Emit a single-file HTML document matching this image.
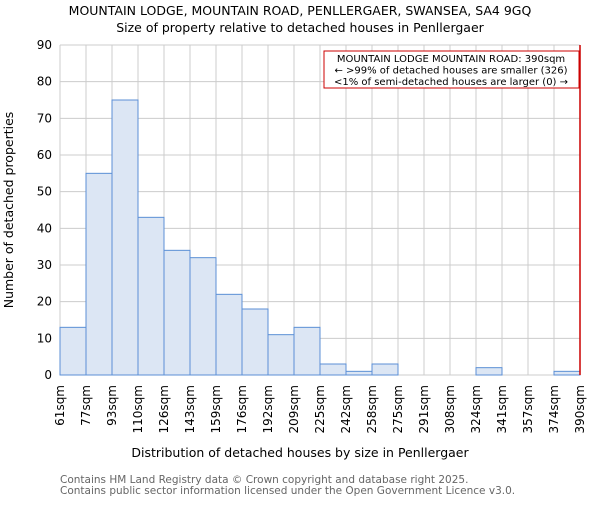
<!DOCTYPE html>
<html><head><meta charset="utf-8"><style>body{margin:0;background:#fff}svg{font-family:"DejaVu Sans","Liberation Sans",sans-serif}</style></head>
<body>
<svg id="c" width="600" height="500">
<text x="300" y="15" text-anchor="middle" font-size="12.5">MOUNTAIN LODGE, MOUNTAIN ROAD, PENLLERGAER, SWANSEA, SA4 9GQ</text>
<text x="300" y="32" text-anchor="middle" font-size="12.5">Size of property relative to detached houses in Penllergaer</text>
<g id="grid"></g><g id="bars"></g><g id="axes"></g>
<text x="300" y="457" text-anchor="middle" font-size="12.5">Distribution of detached houses by size in Penllergaer</text>
<text transform="translate(13,210) rotate(-90)" text-anchor="middle" font-size="12.5">Number of detached properties</text>
<text x="60" y="483" font-size="10.5" fill="#666">Contains HM Land Registry data © Crown copyright and database right 2025.</text>
<text x="60" y="494" font-size="10.5" fill="#666">Contains public sector information licensed under the Open Government Licence v3.0.</text>
</svg>
<script>
const tickLabels=["61sqm","77sqm","93sqm","110sqm","126sqm","143sqm","159sqm","176sqm","192sqm","209sqm","225sqm","242sqm","258sqm","275sqm","291sqm","308sqm","324sqm","341sqm","357sqm","374sqm","390sqm"];
const counts=[13,55,75,43,34,32,22,18,11,13,3,1,3,0,0,0,2,0,0,1];
const yTicks=[0,10,20,30,40,50,60,70,80,90];
const X0=60,X1=580,Y0=375,Y1=45,YMAX=90;
const n=counts.length,bw=(X1-X0)/n;
const xs=i=>X0+i*bw, ys=v=>Y0-(v/YMAX)*(Y0-Y1);
const NS="http://www.w3.org/2000/svg";
function mk(t,a,p){const e=document.createElementNS(NS,t);for(const k in a)e.setAttribute(k,a[k]);p.appendChild(e);return e;}
const g=document.getElementById('grid'),b=document.getElementById('bars'),ax=document.getElementById('axes');
yTicks.forEach(v=>{const l=mk('line',{x1:X0,x2:X1,y1:ys(v),y2:ys(v),stroke:'#ccc'},g);

const t=mk('text',{x:X0-8,y:ys(v)+4,'text-anchor':'end','font-size':'12'},ax);t.textContent=v;
});
tickLabels.forEach((s,i)=>{const x=xs(i);const l=mk('line',{x1:x,x2:x,y1:Y1,y2:Y0,stroke:'#ccc'},g);

const t=mk('text',{transform:`translate(${x+4},${Y0+10}) rotate(-90)`,'text-anchor':'end','font-size':'12'},ax);t.textContent=s;
});
counts.forEach((v,i)=>{if(v<=0)return;const r=mk('rect',{x:xs(i),y:ys(v),width:bw,height:Y0-ys(v),fill:'#dce6f4',stroke:'#5b8fd6','stroke-width':1},b);
});
const rl=mk('line',{x1:X1,x2:X1,y1:Y1,y2:Y0,stroke:'#c00','stroke-width':1.5},ax);

const box=mk('rect',{x:324,y:51,width:255,height:37,fill:'#fff',stroke:'#c00'},ax);

["MOUNTAIN LODGE MOUNTAIN ROAD: 390sqm","← >99% of detached houses are smaller (326)","<1% of semi-detached houses are larger (0) →"].forEach((s,i)=>{
const t=mk('text',{x:451,y:62+i*11.5,'text-anchor':'middle','font-size':'10'},ax);t.textContent=s;
});
</script>
</body></html>
